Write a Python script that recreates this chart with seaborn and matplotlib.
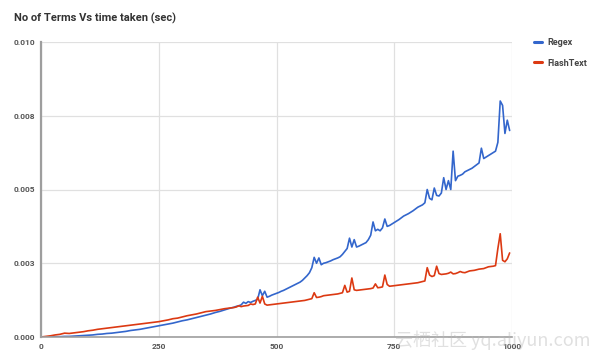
import numpy as np
import pandas as pd
import matplotlib
matplotlib.use("Agg")
import matplotlib.pyplot as plt
import seaborn as sns

terms = list(range(0, 400, 10)) + list(range(400, 1000, 5))

regex = [
    # 0 - 390, step 10
    0.00000, 0.00000, 0.00000, 0.00001, 0.00001, 0.00002, 0.00002, 0.00003, 0.00004, 0.00005,
    0.00006, 0.00007, 0.00009, 0.00010, 0.00012, 0.00013, 0.00015, 0.00017, 0.00019, 0.00022,
    0.00024, 0.00026, 0.00029, 0.00032, 0.00035, 0.00038, 0.00041, 0.00044, 0.00047, 0.00051,
    0.00055, 0.00058, 0.00062, 0.00066, 0.00070, 0.00074, 0.00078, 0.00083, 0.00087, 0.00092,
    # 400 - 995, step 5
    0.00097, 0.00099, 0.00101, 0.00104, 0.00106, 0.00109, 0.00118, 0.00114, 0.00120, 0.00117,
    0.00121, 0.00124, 0.00128, 0.00160, 0.00140, 0.00155, 0.00135, 0.00138, 0.00142, 0.00145,
    0.00148, 0.00151, 0.00155, 0.00158, 0.00162, 0.00166, 0.00170, 0.00174, 0.00178, 0.00182,
    0.00186, 0.00192, 0.00200, 0.00208, 0.00218, 0.00235, 0.00270, 0.00250, 0.00268, 0.00245,
    0.00250, 0.00252, 0.00255, 0.00258, 0.00262, 0.00265, 0.00268, 0.00272, 0.00280, 0.00290,
    0.00300, 0.00335, 0.00305, 0.00330, 0.00305, 0.00308, 0.00312, 0.00316, 0.00320, 0.00330,
    0.00345, 0.00390, 0.00360, 0.00365, 0.00360, 0.00370, 0.00400, 0.00375, 0.00378, 0.00383,
    0.00388, 0.00393, 0.00398, 0.00404, 0.00410, 0.00414, 0.00418, 0.00423, 0.00428, 0.00434,
    0.00440, 0.00444, 0.00448, 0.00455, 0.00500, 0.00470, 0.00465, 0.00505, 0.00480, 0.00478,
    0.00488, 0.00540, 0.00500, 0.00530, 0.00500, 0.00630, 0.00530, 0.00545, 0.00548, 0.00552,
    0.00560, 0.00564, 0.00568, 0.00572, 0.00578, 0.00584, 0.00590, 0.00640, 0.00605, 0.00610,
    0.00615, 0.00620, 0.00625, 0.00630, 0.00660, 0.00800, 0.00785, 0.00690, 0.00735, 0.00700,
]

flashtext = [
    # 0 - 390, step 10
    0.00000, 0.00002, 0.00004, 0.00007, 0.00009, 0.00013, 0.00012, 0.00014, 0.00016, 0.00018,
    0.00021, 0.00023, 0.00026, 0.00028, 0.00030, 0.00032, 0.00034, 0.00036, 0.00038, 0.00040,
    0.00042, 0.00044, 0.00046, 0.00048, 0.00050, 0.00052, 0.00055, 0.00058, 0.00062, 0.00064,
    0.00068, 0.00072, 0.00075, 0.00078, 0.00082, 0.00086, 0.00088, 0.00090, 0.00093, 0.00096,
    # 400 - 995, step 5
    0.00098, 0.00099, 0.00100, 0.00102, 0.00106, 0.00103, 0.00105, 0.00106, 0.00107, 0.00112,
    0.00110, 0.00112, 0.00135, 0.00115, 0.00138, 0.00112, 0.00108, 0.00109, 0.00110, 0.00111,
    0.00112, 0.00113, 0.00114, 0.00115, 0.00116, 0.00117, 0.00118, 0.00119, 0.00120, 0.00121,
    0.00122, 0.00123, 0.00124, 0.00126, 0.00128, 0.00130, 0.00150, 0.00134, 0.00135, 0.00137,
    0.00140, 0.00141, 0.00142, 0.00143, 0.00144, 0.00145, 0.00146, 0.00148, 0.00150, 0.00175,
    0.00152, 0.00155, 0.00200, 0.00160, 0.00158, 0.00159, 0.00160, 0.00161, 0.00162, 0.00163,
    0.00164, 0.00166, 0.00180, 0.00167, 0.00168, 0.00170, 0.00210, 0.00178, 0.00172, 0.00173,
    0.00174, 0.00175, 0.00176, 0.00177, 0.00178, 0.00179, 0.00180, 0.00181, 0.00182, 0.00183,
    0.00184, 0.00186, 0.00188, 0.00190, 0.00235, 0.00210, 0.00205, 0.00208, 0.00240, 0.00215,
    0.00212, 0.00213, 0.00214, 0.00216, 0.00220, 0.00214, 0.00215, 0.00218, 0.00222, 0.00219,
    0.00218, 0.00221, 0.00224, 0.00225, 0.00226, 0.00228, 0.00230, 0.00231, 0.00232, 0.00235,
    0.00238, 0.00239, 0.00240, 0.00242, 0.00300, 0.00350, 0.00260, 0.00255, 0.00265, 0.00285,
]

series_names = ["Regex", "FlashText"]
series_colors = ["#3366cc", "#dc3912"]
x_ticks = [0, 250, 500, 750, 1000]
y_ticks = [0.0, 0.0025, 0.005, 0.0075, 0.01]
y_tick_labels = ["0.000", "0.003", "0.005", "0.008", "0.010"]
title = "No of Terms Vs time taken (sec)"
watermark = "云栖社区 yq.aliyun.com"

df = pd.DataFrame({
    "terms": terms * 2,
    "time": regex + flashtext,
    "series": [series_names[0]] * len(terms) + [series_names[1]] * len(terms),
})

sns.set_theme(style="white")
plt.rcParams["font.family"] = ["Roboto", "DejaVu Sans"]

fig = plt.figure(figsize=(5.98, 3.59), dpi=100)
ax = fig.add_axes([41 / 598, 1 - 337 / 359, 471 / 598, 295 / 359])

sns.lineplot(data=df, x="terms", y="time", hue="series", palette=series_colors,
             hue_order=series_names, linewidth=1.2, ax=ax, legend=True)

ax.set_xlim(0, 1000)
ax.set_ylim(0, 0.01)
ax.set_xticks(x_ticks)
ax.set_xticklabels([str(t) for t in x_ticks])
ax.set_yticks(y_ticks)
ax.set_yticklabels(y_tick_labels)
ax.set_xlabel("")
ax.set_ylabel("")
ax.grid(True, color="#e0e0e0", linewidth=0.9)
ax.set_axisbelow(True)
for s in ["top", "right"]:
    ax.spines[s].set_visible(False)
ax.spines["left"].set_color("#9e9e9e")
ax.spines["left"].set_linewidth(1.6)
ax.spines["bottom"].set_color("#9e9e9e")
ax.spines["bottom"].set_linewidth(1.2)
ax.tick_params(axis="both", length=0, labelsize=6, colors="#555555", pad=4)
for lab in ax.get_xticklabels() + ax.get_yticklabels():
    lab.set_fontweight("bold")

leg = ax.legend(loc="upper left", bbox_to_anchor=(1.03, 1.04), frameon=False,
                fontsize=6.5, handlelength=0.9, handletextpad=0.6, labelspacing=1.25)
for t in leg.get_texts():
    t.set_color("#444444")
    t.set_fontweight("bold")
for h in leg.get_lines():
    h.set_linewidth(2.2)

fig.text(14 / 598, 1 - 18 / 359, title, fontsize=8, fontweight="bold",
         color="#333333", va="center", ha="left")
fig.text(395 / 598, 1 - 340 / 359, watermark, fontsize=13, color="#bbbbbb", alpha=0.45,
         va="center", ha="left", family=["Noto Sans CJK SC", "DejaVu Sans"])

fig.savefig("out.png", dpi=100)
